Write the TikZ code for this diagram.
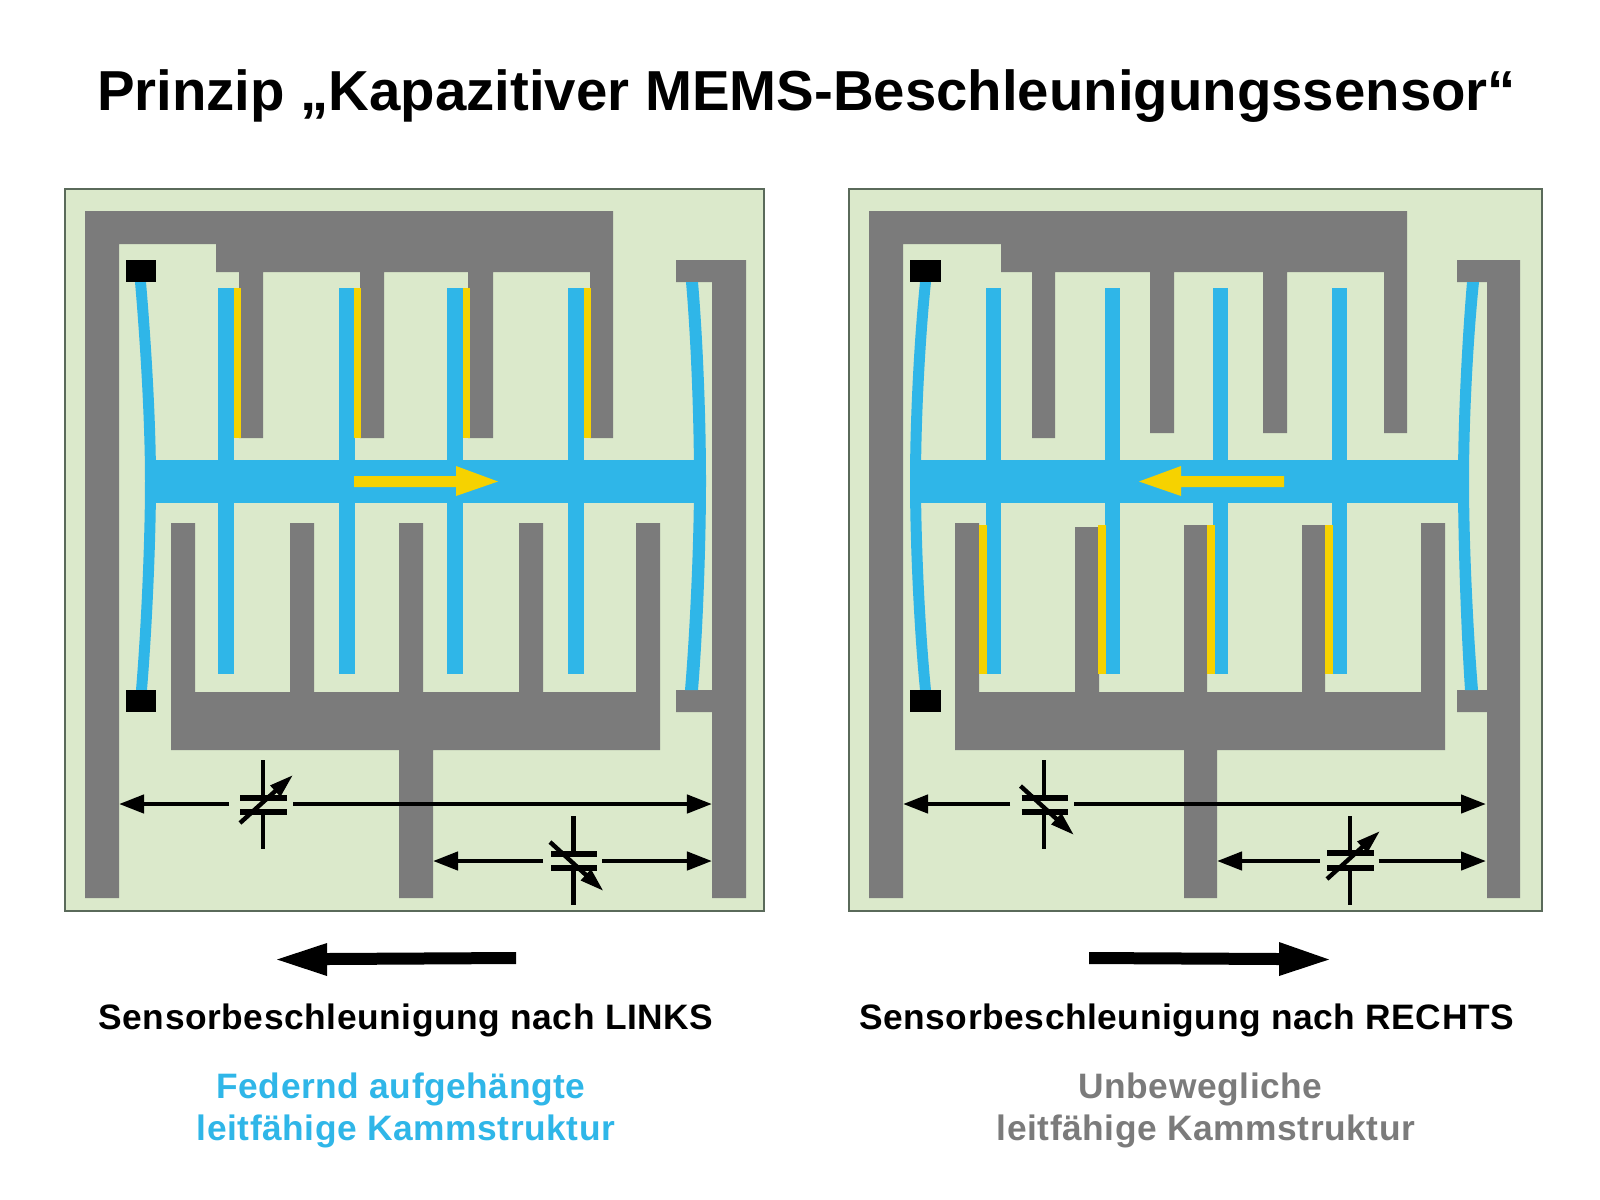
\documentclass[tikz,border=0pt]{standalone}
\usepackage{fontspec}
\setmainfont{Liberation Sans}
\usetikzlibrary{arrows.meta}
\definecolor{panelgreen}{HTML}{DBE9CB}
\definecolor{panelline}{HTML}{5A6A5A}
\definecolor{fixgray}{HTML}{7B7B7B}
\definecolor{combblue}{HTML}{2FB6E8}
\definecolor{gapyellow}{HTML}{F6D200}
\tikzset{
  panel/.style={fill=panelgreen,draw=panelline,line width=0.4pt},
  fixed/.style={fill=fixgray},
  moving/.style={fill=combblue},
  gap/.style={fill=gapyellow},
  wire/.style={line width=1.25pt,-{Triangle[length=0.25cm,width=0.18cm]}},
  capwire/.style={line width=1.15pt},
  plate/.style={line width=1.7pt},
  tune/.style={line width=1.25pt,-{Triangle[length=0.24cm,width=0.14cm]}},
  title/.style={inner sep=0,font=\bfseries\fontsize{16.03pt}{18pt}\selectfont},
  caption/.style={inner sep=0,font=\bfseries\fontsize{10.05pt}{12pt}\selectfont\addfontfeature{LetterSpace=1.6}},
}
\begin{document}
\begin{tikzpicture}[x=0.01cm,y=-0.01cm]
      \useasboundingbox (0,0) rectangle (1600,1200);
      \node[title] (head) at (806.5,96) {Prinzip „Kapazitiver MEMS-Beschleunigungssensor“};
      % left sensor
      \filldraw[panel] (65,189) rectangle (764,911);
      \fill[fixed] (85,211)--(613,211)--(613,438)--(590,438)--(590,272)--(493,272)--(493,438)--(468,438)--(468,272)--(384,272)--(384,438)--(360,438)--(360,272)--(263,272)--(263,438)--(239,438)--(239,272)--(216,272)--(216,244)--(119,244)--(119,898)--(85,898)--cycle;
      \fill[fixed] (676,260)--(746,260)--(746,898)--(712,898)--(712,712)--(676,712)--(676,690)--(712,690)--(712,282)--(676,282)--cycle;
      \fill[fixed] (171,523)--(195,523)--(195,692)--(290,692)--(290,523)--(314,523)--(314,692)--(399,692)--(399,523)--(423,523)--(423,692)--(519,692)--(519,523)--(543,523)--(543,692)--(636,692)--(636,523)--(660,523)--(660,750)--(433,750)--(433,898)--(399,898)--(399,750)--(171,750)--cycle;
      \fill[moving] (150,460) rectangle (700,503);
      \foreach \fx in {218,339,447,568}
        \fill[moving] (\fx,288) rectangle ({\fx+16},674);
      \fill[moving] (135,282) .. controls (140,340) and (145,420) .. (145,481) .. controls (145,542) and (141,630) .. (136,690) -- (147,690) .. controls (152,630) and (156,542) .. (156,481) .. controls (156,420) and (151,340) .. (146,282) -- cycle;
      \fill[moving] (686,282) .. controls (691,340) and (694,420) .. (694,481) .. controls (694,542) and (690,630) .. (685,690) -- (698,690) .. controls (703,630) and (706,542) .. (706,481) .. controls (706,420) and (703,340) .. (698,282) -- cycle;
      \fill (126,260) rectangle (156,282);
      \fill (126,690) rectangle (156,712);
      \foreach \fx in {234,354,463,584}
        \fill[gap] (\fx,288) rectangle ({\fx+7},438);
      \fill[gap] (354,476)--(456,476)--(456,466)--(498,481.5)--(456,496)--(456,487)--(354,487)--cycle;
      \coordinate (lawall) at (119,804);
      \coordinate (lbwall) at (712,804);
      \coordinate (lcwall) at (433,861);
      \coordinate (ldwall) at (712,861);
      \draw[wire] (229,804)--(lawall);
      \draw[wire] (293,804)--(lbwall);
      \draw[capwire] (263,760)--(263,795);
      \draw[capwire] (263,815)--(263,849);
      \draw[plate] (240,798)--(287,798);
      \draw[plate] (240,812)--(287,812);
      \draw[tune] (240,823)--(293,775);
      \draw[wire] (543,861)--(lcwall);
      \draw[wire] (602,861)--(ldwall);
      \draw[capwire] (573.5,816)--(573.5,851);
      \draw[capwire] (573.5,871)--(573.5,905);
      \draw[plate] (551,854)--(597,854);
      \draw[plate] (551,868)--(597,868);
      \draw[tune] (550,842)--(603.5,891);
      % right sensor
      \filldraw[panel] (849,189) rectangle (1542,911);
      \fill[fixed] (869,211)--(1407,211)--(1407,433)--(1384,433)--(1384,272)--(1287,272)--(1287,433)--(1263,433)--(1263,272)--(1174,272)--(1174,433)--(1150,433)--(1150,272)--(1055,272)--(1055,438)--(1032,438)--(1032,272)--(1001,272)--(1001,244)--(903,244)--(903,898)--(869,898)--cycle;
      \fill[fixed] (1457,260)--(1520,260)--(1520,898)--(1487,898)--(1487,712)--(1457,712)--(1457,690)--(1487,690)--(1487,282)--(1457,282)--cycle;
      \fill[fixed] (955,523)--(979,523)--(979,692)--(1075,692)--(1075,527)--(1099,527)--(1099,692)--(1184,692)--(1184,525)--(1207,525)--(1207,692)--(1302,692)--(1302,525)--(1325,525)--(1325,692)--(1421,692)--(1421,523)--(1445,523)--(1445,750)--(1217,750)--(1217,898)--(1184,898)--(1184,750)--(955,750)--cycle;
      \fill[moving] (915,460) rectangle (1462,503);
      \foreach \fx in {986,1105,1213,1332}
        \fill[moving] (\fx,288) rectangle ({\fx+15},674);
      \fill[moving] (920,282) .. controls (914,340) and (910,420) .. (910,481) .. controls (910,542) and (914,630) .. (920,690) -- (931,690) .. controls (925,630) and (921,542) .. (921,481) .. controls (921,420) and (925,340) .. (931,282) -- cycle;
      \fill[moving] (1467,282) .. controls (1462,340) and (1458,420) .. (1458,481) .. controls (1458,542) and (1461,630) .. (1465,690) -- (1478,690) .. controls (1473,630) and (1469,542) .. (1469,481) .. controls (1469,420) and (1473,340) .. (1479,282) -- cycle;
      \fill (910,260) rectangle (941,282);
      \fill (910,690) rectangle (941,712);
      \foreach \fx in {979,1098,1207,1325}
        \fill[gap] (\fx,525) rectangle ({\fx+8},674);
      \fill[gap] (1284,476)--(1181,476)--(1181,466)--(1139,481.5)--(1181,496)--(1181,487)--(1284,487)--cycle;
      \coordinate (rawall) at (903,804);
      \coordinate (rbwall) at (1486,804);
      \coordinate (rcwall) at (1217,861);
      \coordinate (rdwall) at (1486,861);
      \draw[wire] (1010,804)--(rawall);
      \draw[wire] (1074,804)--(rbwall);
      \draw[capwire] (1044,760)--(1044,795);
      \draw[capwire] (1044,815)--(1044,849);
      \draw[plate] (1021.5,798)--(1068,798);
      \draw[plate] (1021.5,812)--(1068,812);
      \draw[tune] (1020.5,786)--(1074,835);
      \draw[wire] (1320,861)--(rcwall);
      \draw[wire] (1378.5,861)--(rdwall);
      \draw[capwire] (1350,816)--(1350,851);
      \draw[capwire] (1350,871)--(1350,905);
      \draw[plate] (1327,853)--(1374,853);
      \draw[plate] (1327,868)--(1374,868);
      \draw[tune] (1327,879)--(1380,831);
      % acceleration
      \fill (516,952)--(327,953)--(327,943)--(277,959.5)--(327,976)--(327,965)--(516,964)--cycle;
      \fill (1089,952)--(1279,953)--(1279,942)--(1329,959.5)--(1279,976)--(1279,965)--(1089,964)--cycle;
      \node[caption] (leftcap) at (406,1020) {Sensorbeschleunigung nach LINKS};
      \node[caption] (rightcap) at (1186.5,1020) {Sensorbeschleunigung nach RECHTS};
      \node[caption,text=combblue] (blueone) at (401,1089) {Federnd aufgehängte};
      \node[caption,text=combblue] (bluetwo) at (406,1131) {leitfähige Kammstruktur};
      \node[caption,text=fixgray] (grayone) at (1200.5,1089) {Unbewegliche};
      \node[caption,text=fixgray] (graytwo) at (1206,1131) {leitfähige Kammstruktur};
    \end{tikzpicture}
\end{document}
